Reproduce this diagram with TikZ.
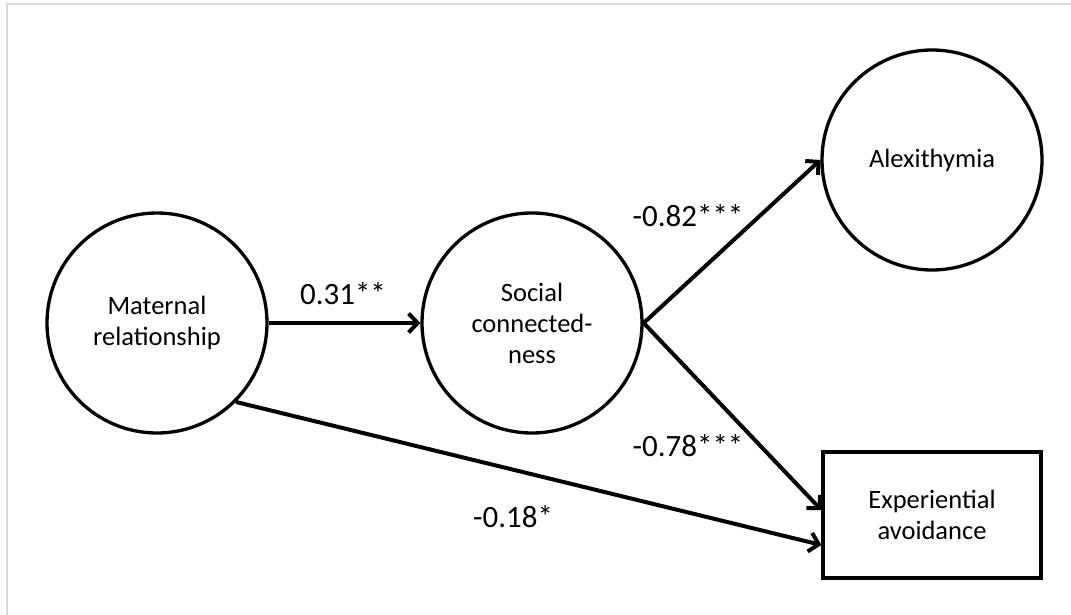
\documentclass[tikz,border=0pt]{standalone}
\usepackage{fontspec}
\setmainfont{Carlito}
\usetikzlibrary{arrows.meta}
\definecolor{framegray}{HTML}{D9D9D9}
\tikzset{
  latent/.style={circle, draw=black, line width=3.3pt, minimum size=220pt, inner sep=0pt, align=center, font=\fontsize{26.5}{31}\selectfont},
  observed/.style={rectangle, draw=black, line width=3.3pt, minimum width=218pt, minimum height=126pt, inner sep=0pt, align=center, font=\fontsize{26.5}{31}\selectfont},
  path/.style={line width=4pt, -{Straight Barb[length=9pt,width=19pt]}},
  coef/.style={font=\fontsize{31}{36}\selectfont, inner sep=0pt}
}
\begin{document}
\begin{tikzpicture}[x=1pt,y=-1pt]
\useasboundingbox (0,0) rectangle (1071,615);
\draw[framegray, line width=2.2pt] (7,615) -- (7,4) -- (1071,4);
% nodes
\node[latent] (mat) at (157,323) {Maternal\\relationship};
\node[latent] (soc) at (532,323) {Social\\connected-\\ness};
\node[latent] (alex) at (932,160) {Alexithymia};
\fill[black!35] (825,454) rectangle (1043,580);
\node[observed, fill=white] (exp) at (932,515) {Experiential\\avoidance};
% paths
\draw[path] (mat.east) -- (soc.west);
\draw[path] (soc.east) -- (alex.west);
\draw[path] (soc.east) -- ([yshift=5pt]exp.west);
\draw[path] (mat.south east) -- ([yshift=-30pt]exp.west);
% coefficients
\node[coef] (c1) at (343,294) {0.31**};
\node[coef] (c2) at (688,216) {-0.82***};
\node[coef] (c3) at (688,446) {-0.78***};
\node[coef] (c4) at (513,517) {-0.18*};
\end{tikzpicture}
\end{document}
